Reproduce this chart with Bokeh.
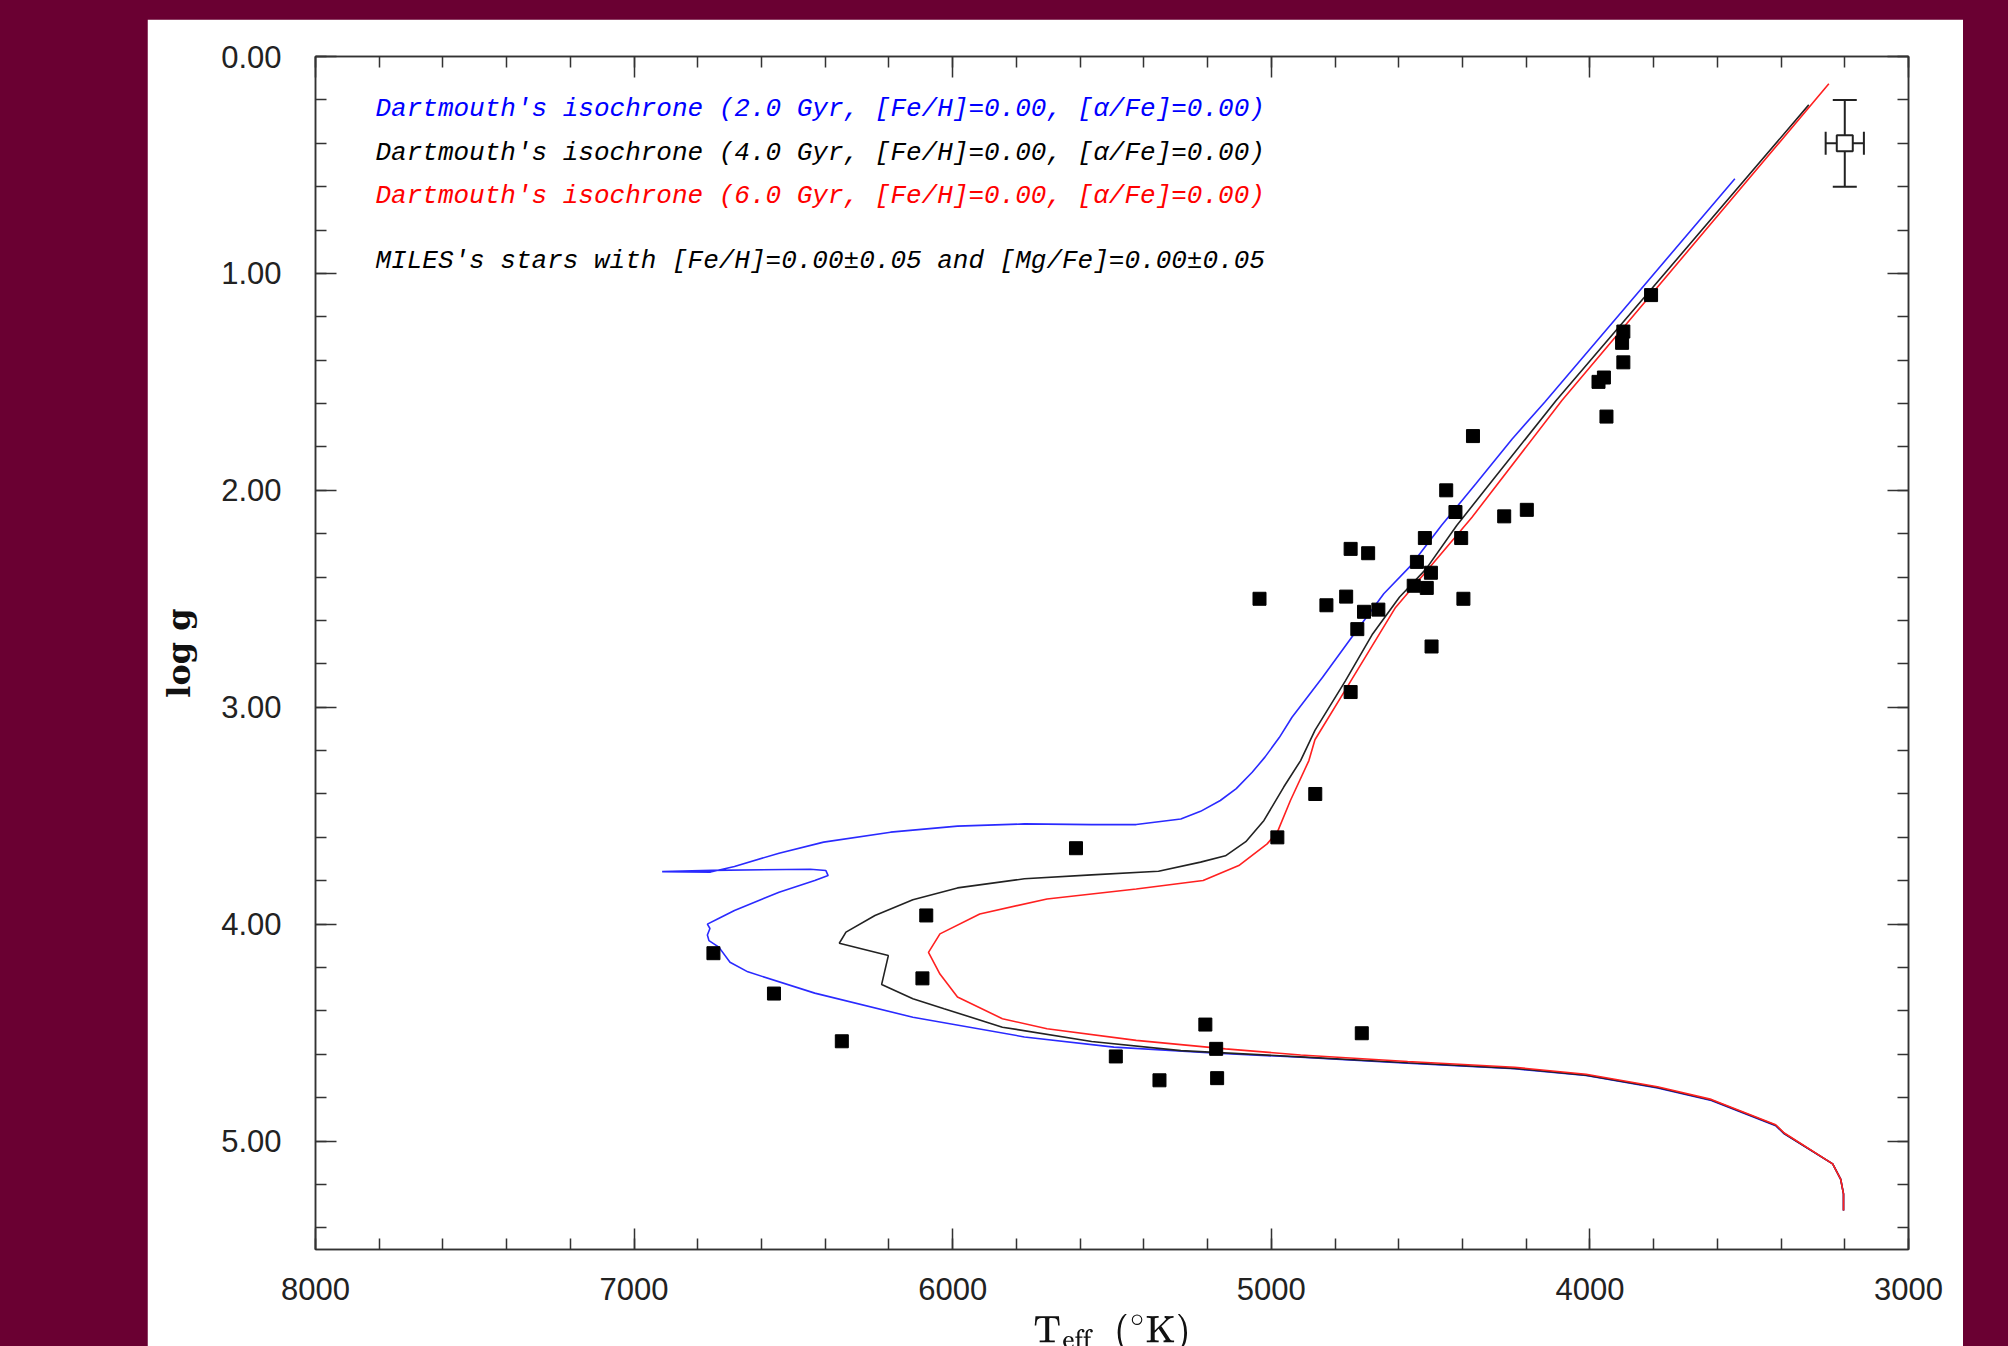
from bokeh.plotting import figure
from bokeh.models import (Range1d, LinearAxis, FixedTicker, Label, Whisker,
                          ColumnDataSource, TeeHead, PrintfTickFormatter, TeX)
from bokeh.layouts import column
from bokeh.embed import file_html
from bokeh.resources import INLINE

# ---------------- data ----------------
# Dartmouth isochrone 2.0 Gyr (blue)
teff_2gyr = [3204, 3204, 3213, 3238, 3390, 3417, 3619, 3788, 4012, 4236, 4572, 4908,
             5172, 5494, 5775, 6125, 6433, 6643, 6699, 6734, 6765, 6770, 6762, 6770,
             6738, 6685, 6545, 6433, 6391, 6398, 6447, 6755, 6912, 6760, 6685, 6545,
             6405, 6195, 5985, 5775, 5564, 5424, 5284, 5222, 5160, 5110, 5060, 5020,
             4975, 4935, 4839, 4755, 4647, 4562, 4466, 4358, 4244, 4142, 3850, 3545]
logg_2gyr = [5.32, 5.244, 5.175, 5.105, 4.967, 4.929, 4.813, 4.755, 4.698, 4.667, 4.641, 4.614,
             4.595, 4.567, 4.52, 4.429, 4.318, 4.22, 4.176, 4.106, 4.076, 4.05, 4.02, 4.0,
             3.976, 3.937, 3.853, 3.799, 3.776, 3.753, 3.747, 3.752, 3.758, 3.760, 3.734, 3.673,
             3.622, 3.576, 3.548, 3.538, 3.541, 3.541, 3.515, 3.48, 3.43, 3.375, 3.30, 3.23,
             3.14, 3.046, 2.862, 2.692, 2.477, 2.347, 2.162, 1.97, 1.763, 1.594, 1.09, 0.564]

# Dartmouth isochrone 4.0 Gyr (black)
teff_4gyr = [3204, 3204, 3213, 3238, 3390, 3417, 3619, 3788, 4012, 4236, 4572, 4908,
             5284, 5564, 5844, 6027, 6125, 6223, 6202, 6356, 6335, 6244, 6125, 5985,
             5775, 5564, 5354, 5222, 5144, 5080, 5023, 4961, 4908, 4863, 4767, 4682,
             4598, 4514, 4418, 4298, 4106, 3313]
logg_4gyr = [5.32, 5.244, 5.175, 5.105, 4.965, 4.927, 4.811, 4.753, 4.696, 4.665, 4.639, 4.612,
             4.583, 4.541, 4.475, 4.39, 4.344, 4.278, 4.145, 4.088, 4.037, 3.96, 3.888, 3.833,
             3.791, 3.773, 3.756, 3.714, 3.685, 3.62, 3.522, 3.368, 3.246, 3.107, 2.877, 2.662,
             2.493, 2.362, 2.162, 1.94, 1.586, 0.223]

# Dartmouth isochrone 6.0 Gyr (red)
teff_6gyr = [3204, 3204, 3213, 3238, 3390, 3417, 3619, 3788, 4012, 4236, 4572, 4908,
             5144, 5424, 5704, 5844, 5985, 6040, 6076, 6040, 5915, 5704, 5424, 5214,
             5102, 5013, 4981, 4940, 4882, 4863, 4755, 4610, 4502, 4370, 4088, 3250]
logg_6gyr = [5.32, 5.244, 5.175, 5.105, 4.963, 4.925, 4.808, 4.75, 4.692, 4.66, 4.633, 4.603,
             4.575, 4.536, 4.482, 4.436, 4.336, 4.23, 4.13, 4.045, 3.953, 3.884, 3.838, 3.799,
             3.73, 3.63, 3.576, 3.43, 3.246, 3.15, 2.89, 2.54, 2.354, 2.124, 1.586, 0.126]

# MILES stars
star_teff = [3808, 3895, 3899, 3895, 3956, 3973, 3948, 4367, 4451, 4422, 4269, 4198,
             4518, 4404, 4751, 4696, 4543, 4499, 4553, 4512, 5037, 4765, 4827, 4709,
             4664, 4397, 4730, 4497, 4751, 4862, 4981, 5613, 6083, 6095, 6751, 6561,
             6348, 5488, 5351, 5207, 5173, 5170, 4716]
star_logg = [1.10, 1.268, 1.32, 1.41, 1.48, 1.50, 1.66, 1.75, 2.00, 2.10, 2.12, 2.09,
             2.22, 2.22, 2.27, 2.29, 2.33, 2.38, 2.44, 2.45, 2.50, 2.49, 2.53, 2.56,
             2.55, 2.50, 2.64, 2.72, 2.93, 3.40, 3.60, 3.65, 3.96, 4.25, 4.134, 4.32,
             4.54, 4.61, 4.72, 4.463, 4.575, 4.71, 4.503]

# typical error bar
err_teff = [3200]
err_logg = [0.40]
err_dteff = [60]
err_dlogg = [0.20]

legend_texts = [
    "Dartmouth's isochrone (2.0 Gyr, [Fe/H]=0.00, [\u03b1/Fe]=0.00)",
    "Dartmouth's isochrone (4.0 Gyr, [Fe/H]=0.00, [\u03b1/Fe]=0.00)",
    "Dartmouth's isochrone (6.0 Gyr, [Fe/H]=0.00, [\u03b1/Fe]=0.00)",
    "MILES's stars with [Fe/H]=0.00\u00b10.05 and [Mg/Fe]=0.00\u00b10.05",
]
legend_colors = ["#0000ff", "#000000", "#ff0000", "#000000"]
legend_y = [1141, 1097, 1054, 989]

x_major = [3000, 4000, 5000, 6000, 7000, 8000]
y_major = [0, 1, 2, 3, 4, 5]

# ---------------- figure ----------------
p = figure(frame_width=1593, frame_height=1193,
           x_range=Range1d(8000, 3000), y_range=Range1d(5.5, 0),
           output_backend="svg", toolbar_location=None,
           min_border_left=168, min_border_right=55,
           min_border_top=37, min_border_bottom=97)
p.margin = (19, 45, 0, 147)
p.styles = {"flex-shrink": "0"}
p.background_fill_color = "white"
p.border_fill_color = "white"
p.outline_line_color = "#333333"
p.outline_line_width = 1.5
p.xgrid.visible = False
p.ygrid.visible = False

bottom = p.below[0]
left = p.left[0]

xt = FixedTicker(ticks=x_major, minor_ticks=list(range(3000, 8001, 200)))
yt = FixedTicker(ticks=y_major, minor_ticks=[round(0.2 * i, 1) for i in range(28)])

bottom.ticker = xt
left.ticker = yt
left.formatter = PrintfTickFormatter(format="%.2f")

top = LinearAxis(ticker=xt)
right = LinearAxis(ticker=yt)
p.add_layout(top, "above")
p.add_layout(right, "right")

for ax in [bottom, left, top, right]:
    ax.major_tick_in = 21
    ax.major_tick_out = 0
    ax.minor_tick_in = 11
    ax.minor_tick_out = 0
    ax.major_tick_line_color = "#333333"
    ax.minor_tick_line_color = "#333333"
    ax.major_tick_line_width = 1.5
    ax.minor_tick_line_width = 1.5
    ax.axis_line_color = "#333333"
    ax.axis_line_width = 1.5
    ax.major_label_text_font = "Liberation Sans"
    ax.major_label_text_font_size = "31px"
    ax.major_label_text_color = "#222222"

top.major_label_overrides = {t: "" for t in x_major}
right.major_label_overrides = {t: "" for t in y_major}
top.major_label_standoff = 0
right.major_label_standoff = 0

bottom.major_label_standoff = 28
bottom.axis_label = TeX(text=r"\mathrm{T_{eff}}\ \ \mathrm{(^{\circ}K)}")
bottom.axis_label_text_font_size = "32px"
bottom.axis_label_text_color = "#111111"
bottom.axis_label_standoff = 11

left.major_label_standoff = 34
left.axis_label = "log g"
left.axis_label_text_font = "DejaVu Serif"
left.axis_label_text_font_style = "bold"
left.axis_label_text_font_size = "32px"
left.axis_label_text_color = "#111111"
left.axis_label_standoff = 20

# isochrones
p.line(teff_2gyr, logg_2gyr, line_color="#2a2aff", line_width=1.6)
p.line(teff_4gyr, logg_4gyr, line_color="#222222", line_width=1.6)
p.line(teff_6gyr, logg_6gyr, line_color="#ff2020", line_width=1.6)

# stars
p.scatter(star_teff, star_logg, marker="square", size=13,
          fill_color="black", line_color="black")

# error bar symbol
src_v = ColumnDataSource(dict(
    x=err_teff,
    lower=[y - d for y, d in zip(err_logg, err_dlogg)],
    upper=[y + d for y, d in zip(err_logg, err_dlogg)]))
src_h = ColumnDataSource(dict(
    y=err_logg,
    lower=[x - d for x, d in zip(err_teff, err_dteff)],
    upper=[x + d for x, d in zip(err_teff, err_dteff)]))
p.add_layout(Whisker(source=src_v, base="x", lower="lower", upper="upper",
                     dimension="height", line_color="#222222", line_width=2,
                     upper_head=TeeHead(size=24, line_color="#222222", line_width=2),
                     lower_head=TeeHead(size=24, line_color="#222222", line_width=2)))
p.add_layout(Whisker(source=src_h, base="y", lower="lower", upper="upper",
                     dimension="width", line_color="#222222", line_width=2,
                     upper_head=TeeHead(size=23, line_color="#222222", line_width=2),
                     lower_head=TeeHead(size=23, line_color="#222222", line_width=2)))
p.scatter(err_teff, err_logg, marker="square", size=16, fill_color="white",
          line_color="#222222", line_width=2)

# legend texts
for txt, col, yy in zip(legend_texts, legend_colors, legend_y):
    p.add_layout(Label(x=60, y=yy, x_units="screen", y_units="screen", text=txt,
                       text_font="Liberation Mono", text_font_style="italic",
                       text_font_size="26px", text_color=col,
                       text_baseline="middle", text_align="left"))

root = column(p, width=2008, height=1346,
              styles={"background-color": "#6a0032", "overflow": "hidden"})

open("out.html", "w").write(file_html(root, INLINE))
